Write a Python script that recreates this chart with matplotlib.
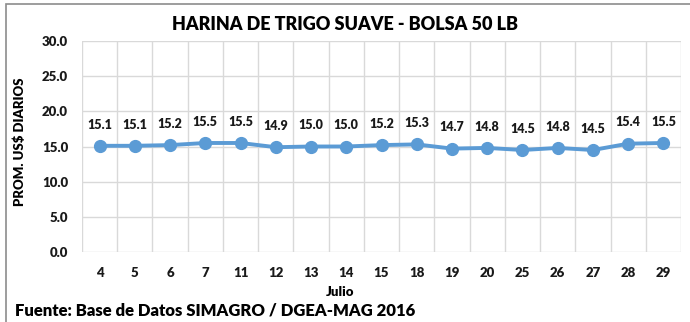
import matplotlib
matplotlib.use("Agg")
import matplotlib.pyplot as plt
from matplotlib.patches import Rectangle
import numpy as np

days = ["4", "5", "6", "7", "11", "12", "13", "14", "15", "18",
        "19", "20", "25", "26", "27", "28", "29"]
prices = [15.1, 15.1, 15.2, 15.5, 15.5, 14.9, 15.0, 15.0, 15.2, 15.3,
          14.7, 14.8, 14.5, 14.8, 14.5, 15.4, 15.5]
y_ticks = [0.0, 5.0, 10.0, 15.0, 20.0, 25.0, 30.0]

title = "HARINA DE TRIGO SUAVE - BOLSA 50 LB"
y_label = "PROM. US$ DIARIOS"
x_label = "Julio"
source = "Fuente: Base de Datos SIMAGRO / DGEA-MAG 2016"

plt.rcParams["font.family"] = ["Lato", "DejaVu Sans"]
plt.rcParams["font.weight"] = "bold"

W, H = 690, 322
fig = plt.figure(figsize=(W / 100, H / 100), dpi=100)
fig.patch.set_facecolor("white")

# plot area in pixels: left 82, right 681, top 41, bottom 252
ax = fig.add_axes([82 / W, 1 - 252 / H, (681 - 82) / W, (252 - 41) / H])

x = np.arange(len(days))
line_color = "#5B9BD5"
ax.plot(x, prices, color=line_color, lw=2.8, marker="o", ms=8.5,
        zorder=3, solid_capstyle="round")

for xi, v in zip(x, prices):
    ax.annotate(f"{v:.1f}", (xi, v), xytext=(0, 11), textcoords="offset points",
                ha="center", va="bottom", fontsize=9, fontweight="heavy",
                color="#1a1a1a")

ax.set_xlim(-0.5, len(days) - 0.5)
ax.set_ylim(0, 30)
ax.set_yticks(y_ticks)
ax.set_yticklabels([f"{t:.1f}" for t in y_ticks], fontweight="heavy")
ax.set_xticks(x)
ax.set_xticklabels(days, fontweight="heavy")
ax.set_xticks(np.arange(len(days) + 1) - 0.5, minor=True)

ax.grid(True, axis="y", which="major", color="#D9D9D9", lw=1)
ax.grid(True, axis="x", which="minor", color="#D9D9D9", lw=1)
ax.grid(False, axis="x", which="major")
ax.set_axisbelow(True)
for s in ax.spines.values():
    s.set_visible(False)
ax.tick_params(axis="both", which="both", length=0, labelsize=9.5,
               colors="#1a1a1a")
ax.tick_params(axis="y", pad=10)
ax.tick_params(axis="x", pad=11)

fig.text(340 / W, 1 - 292 / H, x_label, ha="center", va="center",
         fontsize=9.5, fontweight="heavy", color="black")
fig.text(345 / W, 1 - 24 / H, title, ha="center", va="center",
         fontsize=13, fontweight="heavy", color="black")
fig.text(20 / W, 1 - 142 / H, y_label, ha="center", va="center",
         rotation=90, fontsize=9.5, fontweight="heavy", color="black")
fig.text(15 / W, 1 - 311 / H, source, ha="left", va="center",
         fontsize=12, fontweight="heavy", color="black")

# outer frame of the chart
fig.patches.append(Rectangle((6 / W, -0.1), 1.2, 1 - 4 / H + 0.1,
                             transform=fig.transFigure, fill=False,
                             edgecolor="#8C8C8C", lw=1.2))

fig.savefig("out.png", dpi=100, facecolor="white")
